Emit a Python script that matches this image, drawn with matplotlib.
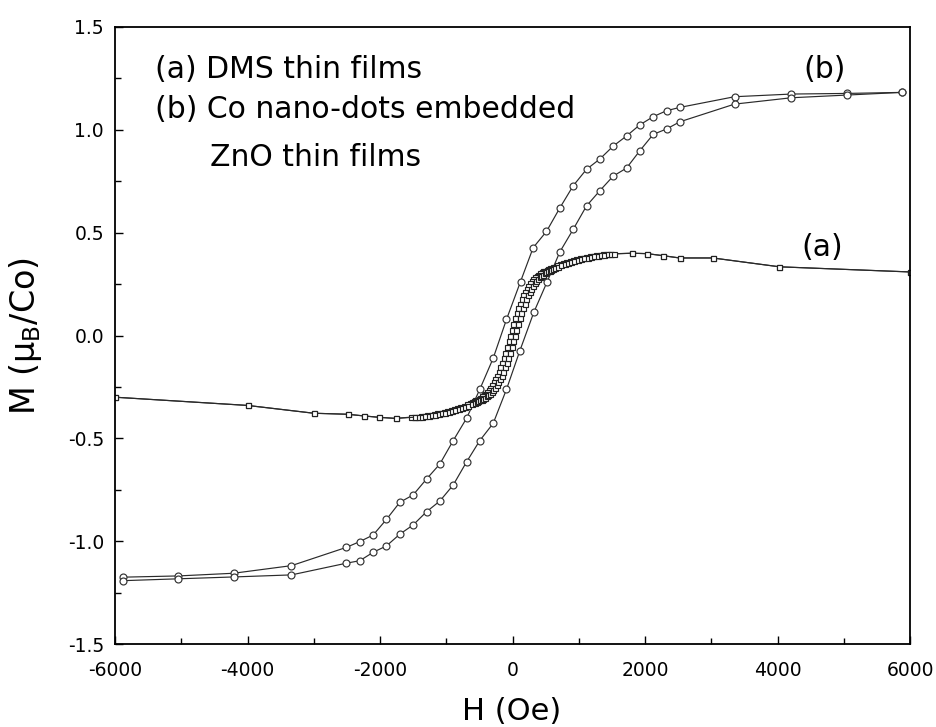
import matplotlib
matplotlib.use("Agg")
import matplotlib.pyplot as plt
from matplotlib.ticker import MultipleLocator, FormatStrFormatter

plt.rcParams['font.family'] = ['DejaVu Sans']
plt.rcParams['axes.unicode_minus'] = False
plt.rcParams['mathtext.fontset'] = 'dejavusans'

# ---- curve (b): Co nano-dots embedded ZnO, descending branch (+H -> -H)
b_down_H = [5872, 5042, 4211, 3351, 2525, 2325, 2124, 1921, 1721, 1520, 1318, 1117,
            916, 714, 513, 312, 121, -91, -291, -494, -694, -895, -1097, -1298,
            -1499, -1701, -1902, -2103, -2305, -2506, -3336, -4211, -5042, -5872]
b_down_M = [1.182, 1.177, 1.174, 1.161, 1.109, 1.093, 1.064, 1.024, 0.970, 0.921,
            0.858, 0.808, 0.728, 0.620, 0.506, 0.427, 0.262, 0.078, -0.110, -0.262,
            -0.403, -0.511, -0.625, -0.698, -0.775, -0.811, -0.894, -0.970, -1.002,
            -1.030, -1.119, -1.156, -1.169, -1.175]
# ascending branch (-H -> +H)
b_up_H = [-5872, -5042, -4211, -3336, -2506, -2305, -2103, -1902, -1701, -1499,
          -1298, -1097, -895, -694, -494, -291, -91, 110, 322, 524, 714, 916, 1117,
          1318, 1520, 1721, 1921, 2124, 2325, 2525, 3351, 4211, 5042, 5872]
b_up_M = [-1.192, -1.183, -1.174, -1.164, -1.107, -1.095, -1.054, -1.023, -0.966,
          -0.921, -0.857, -0.805, -0.727, -0.615, -0.511, -0.427, -0.262, -0.075,
          0.113, 0.262, 0.406, 0.516, 0.630, 0.704, 0.775, 0.814, 0.898, 0.978,
          1.004, 1.039, 1.125, 1.156, 1.169, 1.182]

# ---- curve (a): DMS thin films
a_tail_right_H = [6000, 4030, 3023, 2521, 2275, 2033, 1807]
a_tail_right_M = [0.309, 0.334, 0.377, 0.377, 0.388, 0.398, 0.400]
a_tail_left_H = [-1766, -2008, -2245, -2486, -2999, -4000, -6000]
a_tail_left_M = [-0.403, -0.398, -0.391, -0.383, -0.378, -0.340, -0.300]

# dense central part: field grid, magnetisation, and the small loop half-width (Oe)
a_grid = [-1500, -1450, -1400, -1350, -1300, -1250, -1200, -1150, -1100, -1050,
          -1000, -950, -900, -850, -800, -750, -700, -650, -600,
          -575, -550, -525, -500, -475, -450, -425, -400, -375, -350, -325, -300,
          -275, -250, -225, -200, -175, -150, -125, -100, -75, -50, -25, 0,
          25, 50, 75, 100, 125, 150, 175, 200, 225, 250, 275, 300, 325, 350, 375,
          400, 425, 450, 475, 500, 525, 550, 575,
          600, 650, 700, 750, 800, 850, 900, 950, 1000, 1050, 1100, 1150, 1200,
          1250, 1300, 1350, 1400, 1450, 1500]
a_M = [-0.397, -0.396, -0.394, -0.392, -0.390, -0.388, -0.385, -0.382, -0.379, -0.376,
       -0.372, -0.368, -0.364, -0.359, -0.354, -0.348, -0.342, -0.335, -0.328,
       -0.324, -0.320, -0.316, -0.312, -0.307, -0.302, -0.296, -0.290, -0.283, -0.275,
       -0.266, -0.255, -0.242, -0.228, -0.212, -0.195, -0.176, -0.155, -0.133, -0.110,
       -0.083, -0.055, -0.028, 0.000,
       0.028, 0.055, 0.083, 0.110, 0.133, 0.155, 0.176, 0.195, 0.212, 0.228, 0.242,
       0.255, 0.266, 0.275, 0.283, 0.290, 0.296, 0.302, 0.307, 0.312, 0.316, 0.320,
       0.324,
       0.328, 0.335, 0.342, 0.348, 0.354, 0.359, 0.364, 0.368, 0.372, 0.376, 0.379,
       0.382, 0.385, 0.388, 0.390, 0.392, 0.394, 0.396, 0.397]
a_coercive = 35

fig = plt.figure(figsize=(9.36, 7.27), dpi=100)
ax = fig.add_axes([115 / 936, 1 - 644 / 727, 795 / 936, 617 / 727])

lc = '#2a2a2a'
circ = dict(marker='o', markersize=5.0, markerfacecolor='white',
            markeredgecolor='#333333', markeredgewidth=0.85, color=lc, linewidth=0.85)
sq = dict(marker='s', markersize=3.6, markerfacecolor='white',
          markeredgecolor='#222222', markeredgewidth=0.85, color=lc, linewidth=0.85)

ax.plot(b_down_H, b_down_M, **circ)
ax.plot(b_up_H, b_up_M, **circ)

a_down_H = [h - a_coercive for h in a_grid]
a_up_H = [h + a_coercive for h in a_grid]
ax.plot(a_tail_right_H + a_down_H[::-1] + a_tail_left_H,
        a_tail_right_M + a_M[::-1] + a_tail_left_M, **sq)
ax.plot(a_tail_left_H[::-1] + a_up_H + a_tail_right_H[::-1],
        a_tail_left_M[::-1] + a_M + a_tail_right_M[::-1], **sq)

ax.set_xlim(-6000, 6000)
ax.set_ylim(-1.5, 1.5)
ax.xaxis.set_major_locator(MultipleLocator(2000))
ax.xaxis.set_minor_locator(MultipleLocator(1000))
ax.yaxis.set_major_locator(MultipleLocator(0.5))
ax.yaxis.set_minor_locator(MultipleLocator(0.25))
ax.yaxis.set_major_formatter(FormatStrFormatter('%.1f'))
ax.tick_params(which='both', direction='in', top=False, right=False,
               labelsize=13.5, width=1.0)
ax.tick_params(which='major', length=6)
ax.tick_params(which='minor', length=4)
ax.tick_params(axis='x', which='major', pad=12)
ax.tick_params(axis='y', which='major', pad=8)
for s in ax.spines.values():
    s.set_linewidth(1.3)

fig.text(512 / 936, 1 - 712 / 727, 'H (Oe)', fontsize=22, ha='center', va='center')
fig.text(25 / 936, 1 - 336 / 727, 'M (μ$_\\mathregular{B}$/Co)', fontsize=24,
         rotation=90, ha='center', va='center')

tr = ax.transAxes
def px(x, y):
    return ((x - 115) / 795, (644 - y) / 617)

ax.text(*px(155, 78), '(a) DMS thin films', fontsize=21.5, transform=tr,
        ha='left', va='baseline')
ax.text(*px(155, 118), '(b) Co nano-dots embedded', fontsize=21.5, transform=tr,
        ha='left', va='baseline')
ax.text(*px(210, 166), 'ZnO thin films', fontsize=21.5, transform=tr,
        ha='left', va='baseline')
ax.text(*px(825, 70), '(b)', fontsize=21.5, transform=tr, ha='center', va='center')
ax.text(*px(822, 247), '(a)', fontsize=21.5, transform=tr, ha='center', va='center')

fig.savefig('out.png', dpi=100)
